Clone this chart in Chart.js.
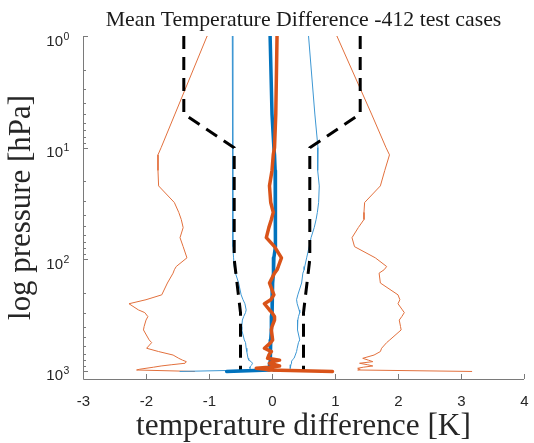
<!DOCTYPE html>
<html>
<head>
<meta charset="utf-8">
<script src="https://cdn.jsdelivr.net/npm/chart.js@4/dist/chart.umd.min.js"></script>
<style>
  html, body { margin: 0; padding: 0; background: #ffffff; }
  #wrap { width: 534px; height: 443px; }
</style>
</head>
<body>
<div id="wrap"><canvas id="c" width="534" height="443"></canvas></div>
<script>
// ---------------- data ----------------
const titleText = 'Mean Temperature Difference -412 test cases';
const xLabelText = 'temperature difference [K]';
const yLabelText = 'log pressure [hPa]';

const xTicks = [-3, -2, -1, 0, 1, 2, 3, 4];
const yDecades = [0, 1, 2, 3];

// pressure levels [hPa]
const pressure = [1, 5, 10, 11.6, 16, 22, 31, 38, 44, 52,
  64, 77, 97, 116, 124, 133, 163, 208, 230, 250,
  284, 300, 326, 350, 400, 429, 527, 557, 626, 670,
  720, 770, 800, 825, 853, 880, 902, 925, 946, 965,
  980, 1010];

// thin orange (upper envelope)
const orangeHi = [1.03, 1.58, 1.81, 1.865, 1.79, 1.72, 1.47, 1.46, 1.46, 1.37,
  1.27, 1.31, 1.64, 1.82, 1.78, 1.70, 1.72, 2.00, 2.03, 2.00,
  2.07, 2.10, 2.06, 2.02, 2.04, 2.05, 1.87, 1.82, 1.74, 1.72,
  1.62, 1.44, 1.53, 1.60, 1.39, 1.52, 1.60, 1.45, 1.36, 1.40,
  1.36, 3.17];
// thin orange (lower envelope)
const orangeLo = [-1.03, -1.54, -1.76, -1.81, -1.81, -1.80, -1.55, -1.48, -1.44, -1.41,
  -1.46, -1.41, -1.35, -1.52, -1.55, -1.57, -1.66, -1.75, -2.00, -2.27,
  -2.12, -2.02, -1.97, -2.00, -2.03, -2.04, -1.95, -1.91, -1.99, -1.80,
  -1.57, -1.48, -1.42, -1.36, -1.38, -1.60, -1.76, -1.88, -2.00, -2.10,
  -2.15, -1.23];
// thick orange (mean)
const orangeMean = [0.08, 0.06, 0.04, 0.02, 0.00, -0.04, -0.02, 0.02, -0.01, -0.05,
  -0.09, 0.04, 0.15, 0.10, 0.08, 0.04, -0.04, 0.03, -0.02, -0.12,
  -0.04, 0.00, 0.04, 0.04, 0.00, -0.01, 0.01, -0.02, -0.12, -0.01,
  -0.05, -0.07, 0.12, 0.02, -0.04, 0.05, 0.12, -0.05, -0.25, -0.10,
  -0.05, 0.96];
// thick blue (mean)
const blueMean = [-0.03, 0.00, 0.03, 0.04, 0.05, 0.06, 0.06, 0.06, 0.05, 0.05,
  0.05, 0.05, 0.03, 0.03, 0.02, 0.02, 0.01, 0.01, 0.00, 0.00,
  0.00, 0.00, -0.01, -0.01, -0.01, -0.01, -0.02, -0.02, -0.02, -0.03,
  -0.03, -0.03, -0.03, -0.03, -0.04, -0.04, -0.04, -0.04, -0.04, -0.04,
  -0.04, -0.72];
// thin blue (lower envelope)
const blueLo = [-0.63, -0.63, -0.63, -0.62, -0.62, -0.62, -0.62, -0.62, -0.62, -0.62,
  -0.62, -0.62, -0.61, -0.60, -0.59, -0.58, -0.53, -0.49, -0.46, -0.43,
  -0.41, -0.42, -0.45, -0.47, -0.48, -0.48, -0.44, -0.42, -0.41, -0.40,
  -0.39, -0.38, -0.37, -0.33, -0.31, -0.32, -0.34, -0.35, -0.35, -0.34,
  -0.33, -1.46];
// thin blue (upper envelope)
const blueHi = [0.58, 0.68, 0.73, 0.73, 0.72, 0.75, 0.74, 0.72, 0.70, 0.67,
  0.62, 0.59, 0.55, 0.52, 0.51, 0.49, 0.47, 0.41, 0.39, 0.40,
  0.43, 0.44, 0.42, 0.41, 0.40, 0.41, 0.44, 0.42, 0.40, 0.39,
  0.37, 0.35, 0.32, 0.31, 0.31, 0.30, 0.29, 0.29, 0.29, 0.28,
  0.27, 0.02];

// dashed threshold
const thresholdP  = [1, 5, 10, 100, 300, 1000];
const thresholdHi = [1.4, 1.4, 0.6, 0.6, 0.5, 0.5];
const thresholdLo = [-1.4, -1.4, -0.6, -0.6, -0.5, -0.5];

// ---------------- build ----------------
function pts(xs, ps) { return xs.map((v, i) => ({ x: v, y: ps[i] })); }

const BLUE = '#0072BD', ORANGE = '#D95319';
const BLUE_T = '#3d97d3', ORANGE_T = '#e2703d';

function ds(data, color, width, dash) {
  return {
    data, showLine: true, borderColor: color, backgroundColor: color,
    borderWidth: width, pointRadius: 0, pointHoverRadius: 0, tension: 0,
    borderDash: dash || [], borderJoinStyle: 'round', borderCapStyle: dash ? 'butt' : 'round', fill: false
  };
}

const datasets = [
  ds(pts(orangeMean, pressure), ORANGE, 3.5),
  ds(pts(blueMean, pressure), BLUE, 3.5),
  ds(pts(thresholdHi, thresholdP), '#000000', 3, [13, 8]),
  ds(pts(thresholdLo, thresholdP), '#000000', 3, [13, 8]),
  ds(pts(blueHi, pressure), BLUE_T, 1),
  ds(pts(blueLo, pressure), BLUE_T, 1),
  ds(pts(orangeHi, pressure), ORANGE_T, 1),
  ds(pts(orangeLo, pressure), ORANGE_T, 1)
];

const AXIS = '#7a7a7a', TXT = '#262626';
const SANS = '"Liberation Sans", Arial, Helvetica, sans-serif';
const SERIF = '"Liberation Serif", "Times New Roman", serif';

function fitFont(ctx, text, targetW, baseSize) {
  ctx.font = baseSize + 'px ' + SERIF;
  const w = ctx.measureText(text).width;
  return baseSize * targetW / w;
}

const matlabAxes = {
  id: 'matlabAxes',
  afterDraw(chart) {
    const { ctx, chartArea: a, scales } = chart;
    const xs = scales.x, ys = scales.y;
    ctx.save();
    // axis lines
    ctx.strokeStyle = AXIS; ctx.lineWidth = 1;
    ctx.beginPath();
    ctx.moveTo(a.left + 0.5, a.top);
    ctx.lineTo(a.left + 0.5, a.bottom + 0.5);
    ctx.lineTo(a.right, a.bottom + 0.5);
    ctx.stroke();
    // x ticks (inward) + labels
    ctx.fillStyle = TXT;
    ctx.font = '15px ' + SANS;
    ctx.textAlign = 'center'; ctx.textBaseline = 'alphabetic';
    xTicks.forEach(v => {
      const px = Math.round(xs.getPixelForValue(v)) + 0.5;
      ctx.beginPath(); ctx.moveTo(px, a.bottom); ctx.lineTo(px, a.bottom - 5); ctx.stroke();
      ctx.fillText(String(v), px, a.bottom + 27);
    });
    // y ticks (major + minor), labels 10^n
    yDecades.forEach(d => {
      const base = Math.pow(10, d);
      const py = ys.getPixelForValue(base);
      ctx.beginPath(); ctx.moveTo(a.left, Math.round(py) + 0.5); ctx.lineTo(a.left + 5, Math.round(py) + 0.5); ctx.stroke();
      for (let m = 2; m <= 9; m++) {
        const v = m * base;
        if (v > ys.max) break;
        const pm = Math.round(ys.getPixelForValue(v)) + 0.5;
        ctx.beginPath(); ctx.moveTo(a.left, pm); ctx.lineTo(a.left + 3, pm); ctx.stroke();
      }
      ctx.font = '15px ' + SANS;
      ctx.textAlign = 'right';
      ctx.fillText('10', a.left - 20, py + 9.5);
      ctx.font = '10.5px ' + SANS;
      ctx.textAlign = 'left';
      ctx.fillText(String(d), a.left - 19.5, py + 3.5);
    });
    // title
    const cx = (a.left + a.right) / 2;
    ctx.textAlign = 'center';
    ctx.fillStyle = '#1a1a1a';
    let fs = fitFont(ctx, titleText, 396, 20);
    ctx.font = fs + 'px ' + SERIF;
    ctx.fillText(titleText, cx, 26);
    // x label
    ctx.fillStyle = TXT;
    fs = fitFont(ctx, xLabelText, 335, 30);
    ctx.font = fs + 'px ' + SERIF;
    ctx.fillText(xLabelText, cx, 435);
    // y label
    fs = fitFont(ctx, yLabelText, 225, 30);
    ctx.font = fs + 'px ' + SERIF;
    ctx.translate(30, (a.top + a.bottom) / 2);
    ctx.rotate(-Math.PI / 2);
    ctx.fillText(yLabelText, 0, 0);
    ctx.restore();
  }
};

new Chart(document.getElementById('c'), {
  type: 'scatter',
  data: { datasets },
  options: {
    responsive: false,
    animation: false,
    devicePixelRatio: 1,
    layout: { padding: { top: 36, right: 10, left: 0, bottom: 0 } },
    plugins: { legend: { display: false }, tooltip: { enabled: false }, title: { display: false } },
    scales: {
      x: {
        type: 'linear', min: -3, max: 4,
        ticks: { display: false },
        grid: { display: false, drawTicks: false },
        border: { display: false },
        afterFit(s) { s.height = 64; }
      },
      y: {
        type: 'logarithmic', reverse: true, min: 1, max: 1180,
        ticks: { display: false },
        grid: { display: false, drawTicks: false },
        border: { display: false },
        afterFit(s) { s.width = 83; }
      }
    }
  },
  plugins: [matlabAxes]
});
</script>
</body>
</html>
